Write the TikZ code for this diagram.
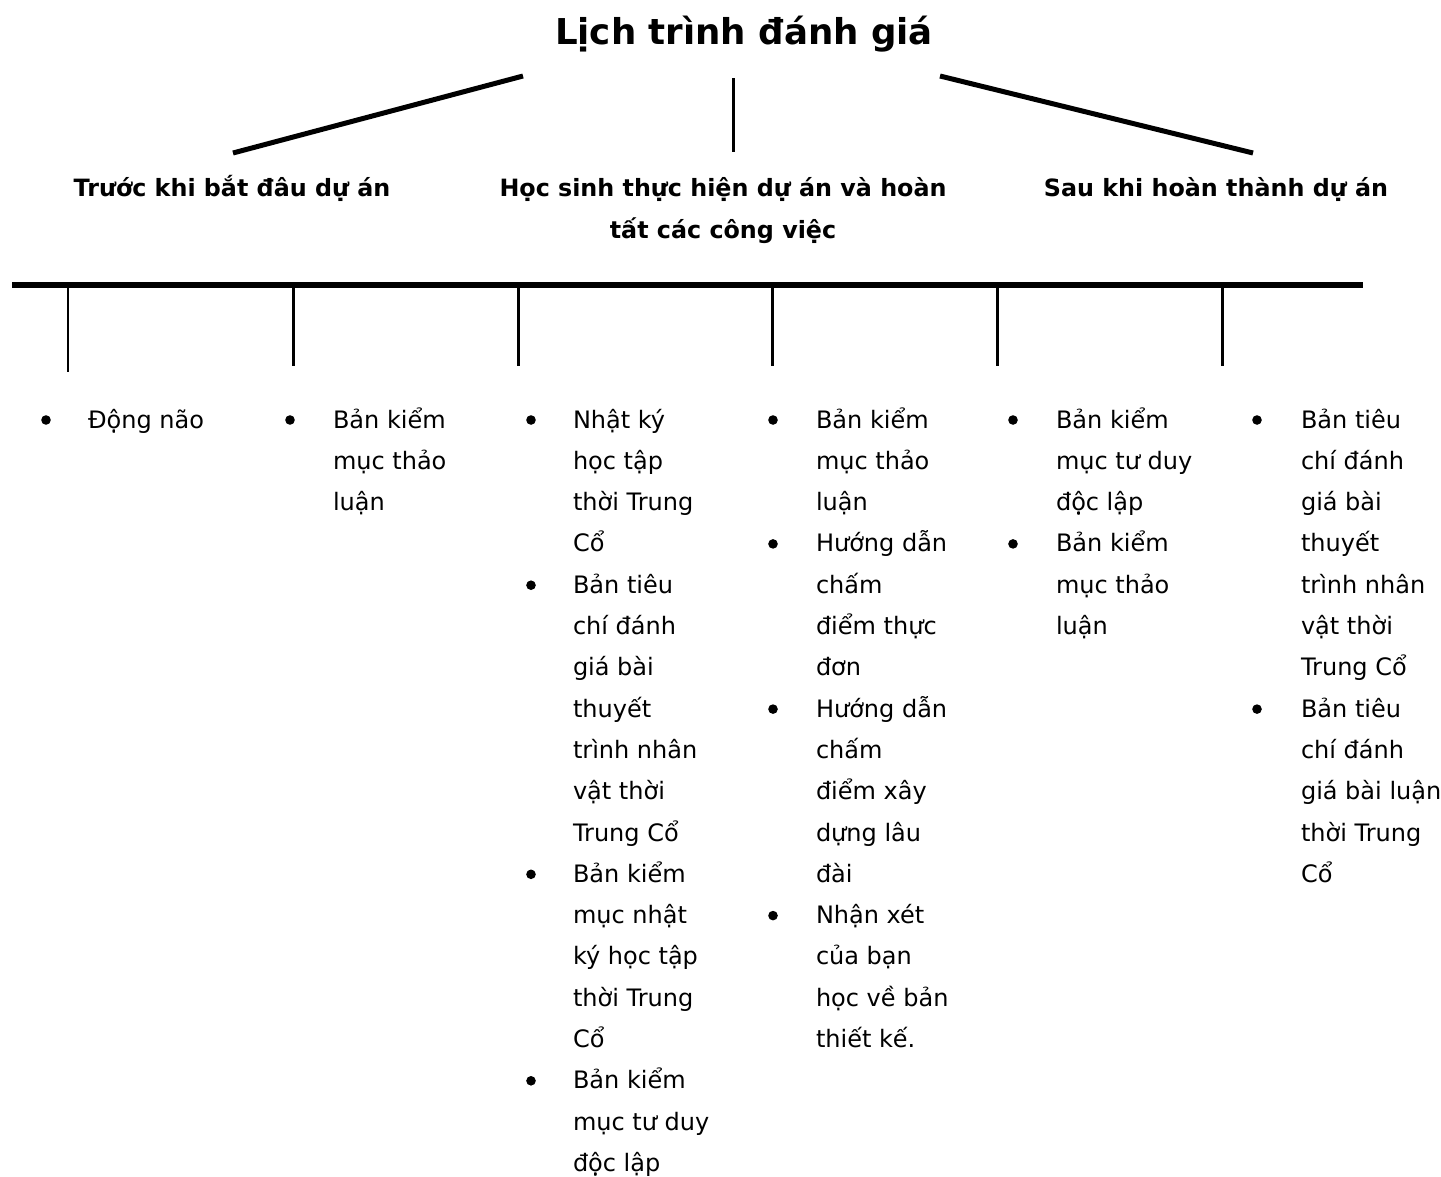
\documentclass[tikz,border=0pt]{standalone}
\usepackage{fontspec}
\setmainfont{DejaVu Sans}
\begin{document}
\begin{tikzpicture}[x=1pt,y=-1pt,
  titlefont/.style={font=\fontsize{35.6}{40}\selectfont\bfseries},
  headfont/.style={font=\fontsize{23.8}{42}\selectfont\bfseries},
  item/.style={anchor=base west,inner sep=0pt,outer sep=0pt,font=\fontsize{24}{41.3}\selectfont},
  thickline/.style={line width=5pt},
  midline/.style={line width=3pt},
  barline/.style={line width=6pt},
]
\useasboundingbox (0,0) rectangle (1441,1176);
\newcommand{\itm}[1]{\parbox[t]{160pt}{\raggedright #1}}
\def\lh{41.3}
% title
\node[titlefont,anchor=base,inner sep=0pt] (title) at (744,44) {Lịch trình đánh giá};
% top lines
\coordinate (l1a) at (523,76); \coordinate (l1b) at (233,153);
\coordinate (l2a) at (733,78); \coordinate (l2b) at (733,152);
\coordinate (l3a) at (940,76); \coordinate (l3b) at (1253,153);
\draw[thickline] (l1a) -- (l1b);
\draw[midline] (l2a) -- (l2b);
\draw[thickline] (l3a) -- (l3b);
% headings
\node[headfont,anchor=base,inner sep=0pt] (h1) at (232,196) {Trước khi bắt đâu dự án};
\node[headfont,anchor=base,inner sep=0pt,align=center] (h2) at (723,196) {\parbox[t]{500pt}{\centering Học sinh thực hiện dự án và hoàn\\tất các công việc}};
\node[headfont,anchor=base,inner sep=0pt] (h3) at (1216,196) {Sau khi hoàn thành dự án};
% bar
\coordinate (ba) at (12,285); \coordinate (bb) at (1363,285);
\draw[barline] (ba) -- (bb);
\foreach \x/\w/\e [count=\i] in {68/2/372,293/3/366,518/3/366,772/3/366,997/3/366,1222/3/366}{
  \coordinate (t\i a) at (\x,287);
  \coordinate (t\i b) at (\x,\e);
  \draw[line width=\w pt] (t\i a) -- (t\i b);
}
% bullets
\newcommand{\bul}[2]{\fill (#1,{420+\lh*#2}) circle (4.8);}
% column 1
\bul{46}{0}
\node[item] (c1a) at (88,428) {\itm{Động não}};
% column 2
\bul{290}{0}
\node[item] (c2a) at (333,428) {\itm{Bản kiểm\\mục thảo\\luận}};
% column 3
\bul{531}{0}\bul{531}{4}\bul{531}{11}\bul{531}{16}
\node[item] (c3a) at (573,428) {\itm{Nhật ký\\học tập\\thời Trung\\Cổ}};
\node[item] (c3b) at (573,{428+4*\lh}) {\itm{Bản tiêu\\chí đánh\\giá bài\\thuyết\\trình nhân\\vật thời\\Trung Cổ}};
\node[item] (c3c) at (573,{428+11*\lh}) {\itm{Bản kiểm\\mục nhật\\ký học tập\\thời Trung\\Cổ}};
\node[item] (c3d) at (573,{428+16*\lh}) {\itm{Bản kiểm\\mục tư duy\\độc lập}};
% column 4
\bul{773}{0}\bul{773}{3}\bul{773}{7}\bul{773}{12}
\node[item] (c4a) at (816,428) {\itm{Bản kiểm\\mục thảo\\luận}};
\node[item] (c4b) at (816,{428+3*\lh}) {\itm{Hướng dẫn\\chấm\\điểm thực\\đơn}};
\node[item] (c4c) at (816,{428+7*\lh}) {\itm{Hướng dẫn\\chấm\\điểm xây\\dựng lâu\\đài}};
\node[item] (c4d) at (816,{428+12*\lh}) {\itm{Nhận xét\\của bạn\\học về bản\\thiết kế.}};
% column 5
\bul{1013}{0}\bul{1013}{3}
\node[item] (c5a) at (1056,428) {\itm{Bản kiểm\\mục tư duy\\độc lập}};
\node[item] (c5b) at (1056,{428+3*\lh}) {\itm{Bản kiểm\\mục thảo\\luận}};
% column 6
\bul{1257}{0}\bul{1257}{7}
\node[item] (c6a) at (1301,428) {\itm{Bản tiêu\\chí đánh\\giá bài\\thuyết\\trình nhân\\vật thời\\Trung Cổ}};
\node[item] (c6b) at (1301,{428+7*\lh}) {\itm{Bản tiêu\\chí đánh\\giá bài luận\\thời Trung\\Cổ}};
\end{tikzpicture}
\end{document}
